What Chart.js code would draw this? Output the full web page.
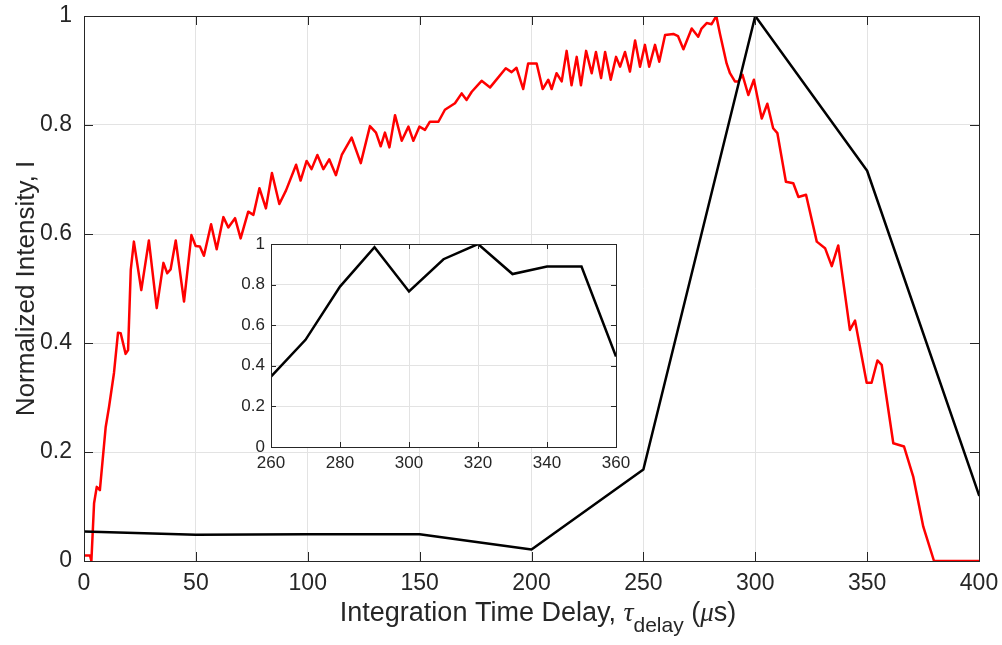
<!DOCTYPE html>
<html>
<head>
<meta charset="utf-8">
<script src="https://cdn.jsdelivr.net/npm/chart.js@4"></script>
<style>
  body { margin: 0; background: #fff; }
  #wrap { position: relative; width: 1002px; height: 645px; }
  #main { position: absolute; left: 0; top: 0; }
  #inset { position: absolute; left: 220px; top: 230px; }
</style>
</head>
<body>
<div id="wrap">
  <canvas id="main" width="1002" height="645"></canvas>
  <canvas id="inset" width="410" height="250"></canvas>
</div>
<script>
// ---------------- data ----------------

// black curve, main axes
var blackTimes = [0, 50, 100, 150, 200, 250, 300, 350, 400];
var blackValues = [0.054, 0.048, 0.049, 0.049, 0.021, 0.168, 1.0, 0.716, 0.121];

// red curve, main axes
var redTimes = [0, 2.7, 3.3, 4.5, 5.7, 7.1, 9.7, 11.2, 13.4, 15.2, 16.4, 18.6, 19.7, 20.9, 22.3,
  25.6, 29.0, 32.5, 35.5, 37.2, 38.7, 41.0, 44.7, 48.0, 49.9, 51.8, 53.6, 56.8, 59.3, 62.3,
  64.5, 67.5, 70.0, 73.4, 75.7, 78.4, 81.3, 84.0, 87.3, 90.3, 94.8, 96.8, 99.5, 101.7, 104.3,
  107.0, 109.6, 112.6, 115.2, 119.6, 123.7, 127.8, 130.5, 132.6, 134.5, 136.5, 139.0, 142.0,
  145.0, 147.2, 149.9, 152.4, 154.6, 158.4, 161.3, 165.8, 168.8, 171.0, 173.3, 177.7, 181.5,
  183.7, 188.5, 191.1, 193.3, 196.3, 198.5, 202.3, 205.0, 207.5, 209.0, 211.2, 213.5, 215.7,
  217.9, 220.2, 222.1, 224.4, 226.9, 228.8, 231.1, 232.9, 235.4, 237.8, 239.6, 241.8, 244.0,
  246.3, 248.5, 250.7, 252.6, 255.2, 257.1, 259.7, 263.4, 265.5, 267.9, 271.6, 274.5, 276.0,
  278.3, 280.5, 282.6, 284.2, 287.2, 288.7, 290.9, 292.5, 294.3, 296.9, 299.4, 302.9, 305.4,
  308.0, 309.9, 313.7, 317.0, 319.3, 322.7, 327.5, 331.2, 334.2, 337.1, 342.3, 344.6, 349.8,
  352.0, 354.6, 356.5, 361.7, 366.5, 370.6, 375.1, 379.9, 400];
var redValues = [0.01, 0.01, 0.0, 0.106, 0.136, 0.13, 0.246, 0.283, 0.345, 0.419, 0.418, 0.38, 0.387, 0.534, 0.586,
  0.497, 0.588, 0.464, 0.547, 0.528, 0.535, 0.588, 0.476, 0.598, 0.578, 0.577, 0.56, 0.618, 0.572, 0.631,
  0.612, 0.629, 0.592, 0.641, 0.635, 0.684, 0.647, 0.712, 0.655, 0.68, 0.727, 0.698, 0.734, 0.719, 0.745,
  0.719, 0.737, 0.708, 0.745, 0.777, 0.73, 0.798, 0.786, 0.761, 0.786, 0.759, 0.818, 0.771,
  0.797, 0.771, 0.797, 0.791, 0.806, 0.806, 0.828, 0.84, 0.858, 0.846, 0.861, 0.881, 0.869,
  0.88, 0.904, 0.897, 0.905, 0.866, 0.913, 0.913, 0.866, 0.883, 0.866, 0.895, 0.88, 0.936,
  0.873, 0.925, 0.873, 0.936, 0.895, 0.934, 0.886, 0.934, 0.883, 0.925, 0.907, 0.934, 0.898,
  0.955, 0.907, 0.947, 0.907, 0.947, 0.916, 0.965, 0.967, 0.963, 0.939, 0.977, 0.962, 0.977,
  0.987, 0.985, 1.0, 0.968, 0.913, 0.895, 0.88, 0.88, 0.892, 0.855, 0.883, 0.812, 0.839,
  0.794, 0.785, 0.696, 0.693, 0.668, 0.672, 0.586, 0.574, 0.541, 0.579, 0.424, 0.441, 0.327,
  0.327, 0.368, 0.36, 0.216, 0.21, 0.155, 0.063, 0.0, 0.0];

// inset
var insetTimes = [260, 270, 280, 290, 300, 310, 320, 330, 340, 350, 360];
var insetValues = [0.347, 0.528, 0.79, 0.984, 0.766, 0.925, 1.0, 0.852, 0.889, 0.889, 0.446];

var xTitle = 'Integration Time Delay, ';
var yTitle = 'Normalized Intensity, I';

// ---------------- helpers ----------------

var axisColor = '#262626';
var gridColor = '#e3e3e3';

function toPoints(xs, ys) {
  var pts = [];
  for (var i = 0; i < xs.length; i++) pts.push({x: xs[i], y: ys[i]});
  return pts;
}

// 0, 0.2 ... 1 (no trailing .0)
function shortNum(v) {
  return String(Number(v.toFixed(2)));
}

// fixed size axes, label overhang ignored so layout padding decides the plot box
function fitX(h) {
  return function(s) { s.height = h; s.paddingLeft = 0; s.paddingRight = 0; };
}
function fitY(w) {
  return function(s) { s.width = w; s.paddingTop = 0; s.paddingBottom = 0; };
}

// matlab-like box with inward ticks
var boxPlugin = {
  id: 'box',
  beforeDraw: function(chart, args, opts) {
    if (!opts.fill) return;
    var a = chart.chartArea, ctx = chart.ctx;
    ctx.save();
    ctx.fillStyle = '#fff';
    ctx.fillRect(a.left, a.top, a.right - a.left, a.bottom - a.top);
    ctx.restore();
  },
  afterDraw: function(chart, args, opts) {
    var ctx = chart.ctx, a = chart.chartArea, len = opts.len || 8;
    var sx = chart.scales.x, sy = chart.scales.y;
    ctx.save();
    ctx.strokeStyle = axisColor;
    ctx.lineWidth = 1;
    ctx.beginPath();
    sx.ticks.forEach(function(t) {
      var px = Math.round(sx.getPixelForValue(t.value)) + 0.5;
      ctx.moveTo(px, a.bottom); ctx.lineTo(px, a.bottom - len);
      ctx.moveTo(px, a.top); ctx.lineTo(px, a.top + len);
    });
    sy.ticks.forEach(function(t) {
      var py = Math.round(sy.getPixelForValue(t.value)) + 0.5;
      ctx.moveTo(a.left, py); ctx.lineTo(a.left + len, py);
      ctx.moveTo(a.right, py); ctx.lineTo(a.right - len, py);
    });
    ctx.stroke();
    ctx.strokeRect(Math.round(a.left) + 0.5, Math.round(a.top) + 0.5,
      Math.round(a.right - a.left), Math.round(a.bottom - a.top));
    ctx.restore();
  }
};

// axis titles for the main chart (subscript in x title)
var titlePlugin = {
  id: 'titles',
  afterDraw: function(chart) {
    var ctx = chart.ctx, a = chart.chartArea;
    ctx.save();
    ctx.fillStyle = axisColor;

    var parts = [
      {t: xTitle, f: '27px "Liberation Sans"', dy: 0},
      {t: '\u03c4', f: 'italic 28px "Liberation Serif"', dy: 0},
      {t: 'delay', f: '21px "Liberation Sans"', dy: 11},
      {t: ' (', f: '27px "Liberation Sans"', dy: 0},
      {t: '\u03bc', f: 'italic 27px "Liberation Serif"', dy: 0},
      {t: 's)', f: '27px "Liberation Sans"', dy: 0}
    ];
    var total = 0;
    parts.forEach(function(p) { ctx.font = p.f; p.w = ctx.measureText(p.t).width; total += p.w; });
    var x = 538 - total / 2;
    var base = 621;
    ctx.textBaseline = 'alphabetic';
    ctx.textAlign = 'left';
    parts.forEach(function(p) {
      ctx.font = p.f;
      ctx.fillText(p.t, x, base + p.dy);
      x += p.w;
    });

    ctx.translate(27, (a.top + a.bottom) / 2);
    ctx.rotate(-Math.PI / 2);
    ctx.font = '26px "Liberation Sans"';
    ctx.textAlign = 'center';
    ctx.textBaseline = 'middle';
    ctx.fillText(yTitle, 0, 0);
    ctx.restore();
  }
};

// ---------------- main chart ----------------

var ctx = document.getElementById('main').getContext('2d');
var mainChart = new Chart(ctx, {
  type: 'line',
  data: {
    datasets: [
      {
        data: toPoints(blackTimes, blackValues),
        borderColor: '#000',
        borderWidth: 2.5,
        pointRadius: 0
      },
      {
        data: toPoints(redTimes, redValues),
        borderColor: '#ff0000',
        borderWidth: 2.5,
        pointRadius: 0
      }
    ]
  },
  options: {
    responsive: false,
    animation: false,
    devicePixelRatio: 1,
    layout: { padding: { top: 16, right: 23, left: 0, bottom: 0 } },
    plugins: {
      legend: { display: false },
      tooltip: { enabled: false },
      box: { len: 9 }
    },
    elements: { line: { tension: 0, borderJoinStyle: 'round', borderCapStyle: 'round' } },
    scales: {
      x: {
        type: 'linear',
        min: 0, max: 400,
        afterFit: fitX(84),
        ticks: { stepSize: 50, color: axisColor, padding: 9, maxRotation: 0,
          font: { family: 'Liberation Sans', size: 23 } },
        grid: { color: gridColor, drawTicks: false },
        border: { display: false }
      },
      y: {
        min: 0, max: 1,
        afterFit: fitY(84),
        ticks: { stepSize: 0.2, color: axisColor, padding: 12,
          font: { family: 'Liberation Sans', size: 23 },
          callback: function(v) { return shortNum(v); } },
        grid: { color: gridColor, drawTicks: false },
        border: { display: false }
      }
    }
  },
  plugins: [boxPlugin, titlePlugin]
});

// ---------------- inset ----------------

var ctx2 = document.getElementById('inset').getContext('2d');
var insetChart = new Chart(ctx2, {
  type: 'line',
  data: {
    datasets: [{
      data: toPoints(insetTimes, insetValues),
      borderColor: '#000',
      borderWidth: 2.5,
      pointRadius: 0
    }]
  },
  options: {
    responsive: false,
    animation: false,
    devicePixelRatio: 1,
    layout: { padding: { top: 14, right: 14, left: 0, bottom: 0 } },
    plugins: {
      legend: { display: false },
      tooltip: { enabled: false },
      box: { len: 5, fill: true }
    },
    elements: { line: { tension: 0, borderJoinStyle: 'miter' } },
    scales: {
      x: {
        type: 'linear',
        min: 260, max: 360,
        afterFit: fitX(33),
        ticks: { stepSize: 20, color: axisColor, padding: 6, maxRotation: 0,
          font: { family: 'Liberation Sans', size: 17 } },
        grid: { color: gridColor, drawTicks: false },
        border: { display: false }
      },
      y: {
        min: 0, max: 1,
        afterFit: fitY(51),
        ticks: { stepSize: 0.2, color: axisColor, padding: 6,
          font: { family: 'Liberation Sans', size: 17 },
          callback: function(v) { return shortNum(v); } },
        grid: { color: gridColor, drawTicks: false },
        border: { display: false }
      }
    }
  },
  plugins: [boxPlugin]
});
</script>
</body>
</html>
